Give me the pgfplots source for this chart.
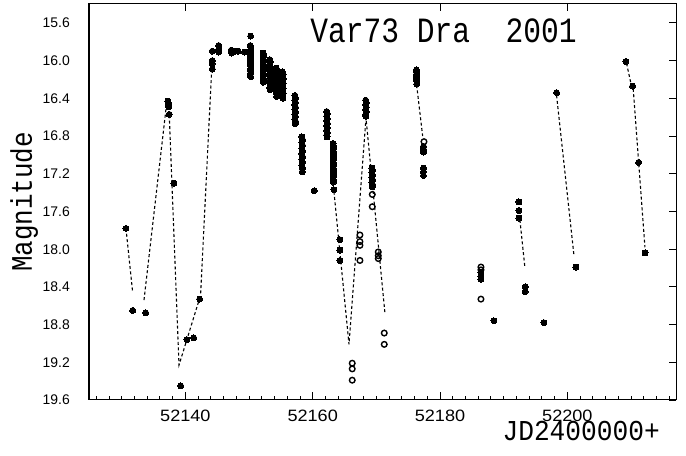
\documentclass[border=0pt]{standalone}
\usepackage{fontspec}
\setmainfont{Liberation Sans}
\newfontfamily\hersh{Liberation Mono}
\usepackage{pgfplots}
\pgfplotsset{compat=1.18}

\pgfplotsset{
  lc/.style={black, line width=1.1bp, dash pattern=on 3bp off 2.4bp, forget plot},
  filled/.style={only marks, mark=*, mark size=3.0bp, mark options={black, fill=black, line width=0bp}},
  hollow/.style={only marks, mark=o, mark size=2.8bp, mark options={black, line width=1.4bp}},
}
% tick label styles
\tikzset{
  ylab/.style={anchor=base east, inner sep=0pt, xshift=-19bp, yshift=-5bp, font=\fontsize{14}{14}\selectfont},
  xlab/.style={anchor=base, inner sep=0pt, yshift=-22bp, font=\fontsize{16.5}{16.5}\selectfont},
}
\newcommand{\xl}[1]{\scalebox{1.1}[1]{#1}}

\begin{document}
\begin{tikzpicture}
\begin{axis}[
  name=ax, scale only axis, width=587bp, height=396bp,
  xmin=52124.86, xmax=52217.07, ymin=15.4, ymax=19.6, y dir=reverse,
  clip=false, scaled x ticks=false, scaled y ticks=false,
  axis line style={line width=1bp},
  xtick={52140,52160,52180,52200}, xticklabels={},
  minor xtick={52126,52128,...,52216},
  xtick pos=bottom, xtick align=inside,
  ytick={15.6,16.0,16.4,16.8,17.2,17.6,18.0,18.4,18.8,19.2,19.6}, yticklabels={},
  ytick pos=left, ytick style={draw=none},
  major tick length=7.5bp, minor tick length=4bp,
  xtick style={line width=0.9bp, black},
]
% guide lines through the light curve
\addplot[lc] coordinates {(52130.67,17.78) (52131.72,18.46)};
\addplot[lc] coordinates {(52133.50,18.54) (52137.06,16.45)};
\addplot[lc] coordinates {(52137.47,16.58) (52139.00,19.23) (52142.29,18.51)};
\addplot[lc] coordinates {(52142.40,18.47) (52144.13,16.10)};
\addplot[lc] coordinates {(52163.34,17.39) (52165.70,19.01) (52168.37,16.61) (52171.35,18.68)};
\addplot[lc] coordinates {(52176.33,16.26) (52177.27,16.80)};
\addplot[lc] coordinates {(52192.55,17.69) (52193.34,18.20)};
\addplot[lc] coordinates {(52198.31,16.37) (52201.03,18.06)};
\addplot[lc] coordinates {(52209.30,16.03) (52209.98,16.24)};
\addplot[lc] coordinates {(52210.35,16.30) (52212.19,17.98)};

% detections
\addplot[filled] table {
x y
52130.67 17.78
52131.72 18.65
52133.76 18.675
52137.25 16.43
52137.30 16.45
52137.30 16.47
52137.35 16.49
52137.47 16.57
52138.20 17.30
52139.26 19.45
52140.25 18.96
52141.30 18.94
52142.24 18.53
52144.23 15.90
52144.23 16.00
52144.23 16.03
52144.23 16.09
52145.23 15.84
52145.23 15.88
52145.23 15.91
52147.20 15.89
52147.27 15.92
52147.80 15.90
52148.30 15.90
52149.30 15.91
52150.25 15.74
52150.20 15.84
52150.30 15.865
52150.20 15.89
52150.30 15.915
52150.20 15.94
52150.30 15.965
52150.20 15.99
52150.30 16.015
52150.20 16.04
52150.30 16.065
52150.20 16.09
52150.30 16.115
52150.20 16.14
52150.25 16.17
52152.20 15.92
52152.30 15.945
52152.20 15.97
52152.30 15.995
52152.20 16.02
52152.30 16.045
52152.20 16.07
52152.30 16.095
52152.20 16.12
52152.30 16.145
52152.20 16.17
52152.30 16.20
52152.24 16.23
52153.25 15.99
52153.35 16.015
52153.25 16.04
52153.35 16.065
52153.25 16.09
52153.35 16.115
52153.25 16.14
52153.35 16.165
52153.25 16.19
52153.35 16.215
52153.25 16.24
52153.35 16.265
52153.25 16.29
52153.30 16.31
52154.28 16.08
52154.38 16.105
52154.28 16.13
52154.38 16.155
52154.28 16.18
52154.38 16.205
52154.28 16.23
52154.38 16.255
52154.28 16.28
52154.38 16.305
52154.28 16.33
52154.38 16.355
52154.33 16.38
52155.25 16.12
52155.35 16.145
52155.25 16.17
52155.35 16.195
52155.25 16.22
52155.35 16.245
52155.25 16.27
52155.35 16.295
52155.25 16.32
52155.35 16.345
52155.25 16.37
52155.30 16.40
52157.20 16.37
52157.30 16.395
52157.20 16.42
52157.30 16.445
52157.20 16.47
52157.30 16.495
52157.20 16.52
52157.30 16.545
52157.20 16.57
52157.30 16.595
52157.20 16.62
52157.30 16.645
52157.25 16.67
52158.31 16.81
52158.41 16.84
52158.31 16.87
52158.41 16.90
52158.31 16.93
52158.41 16.96
52158.31 16.99
52158.41 17.02
52158.31 17.05
52158.41 17.08
52158.31 17.11
52158.41 17.14
52158.36 17.18
52160.25 17.38
52162.20 16.54
52162.30 16.565
52162.20 16.59
52162.30 16.615
52162.20 16.64
52162.30 16.665
52162.20 16.69
52162.30 16.715
52162.20 16.74
52162.30 16.765
52162.20 16.79
52162.25 16.81
52163.20 16.88
52163.30 16.91
52163.20 16.94
52163.30 16.97
52163.20 17.00
52163.30 17.03
52163.20 17.06
52163.30 17.09
52163.20 17.12
52163.30 17.15
52163.20 17.18
52163.30 17.21
52163.20 17.24
52163.30 17.27
52163.25 17.29
52163.34 17.37
52164.28 17.90
52164.28 18.01
52164.28 18.12
52168.32 16.42
52168.42 16.445
52168.32 16.47
52168.42 16.495
52168.32 16.52
52168.42 16.545
52168.32 16.57
52168.37 16.59
52169.31 17.14
52169.41 17.165
52169.31 17.19
52169.41 17.215
52169.31 17.24
52169.41 17.265
52169.31 17.29
52169.41 17.315
52169.36 17.34
52176.28 16.10
52176.38 16.125
52176.28 16.15
52176.38 16.175
52176.28 16.20
52176.38 16.225
52176.33 16.25
52177.40 16.91
52177.40 16.94
52177.40 16.97
52177.40 17.14
52177.40 17.18
52177.40 17.22
52186.43 18.25
52186.43 18.29
52186.43 18.32
52188.47 18.76
52192.40 17.50
52192.40 17.59
52192.40 17.67
52193.38 18.40
52193.38 18.45
52196.32 18.78
52198.31 16.34
52201.35 18.19
52209.20 16.01
52210.25 16.27
52211.20 17.08
52212.20 18.04
};

% upper limits / uncertain points
\addplot[hollow] table {
x y
52166.21 19.21
52166.21 19.27
52166.21 19.39
52167.42 17.85
52167.42 17.92
52167.42 17.96
52167.42 18.12
52169.36 17.42
52169.36 17.55
52170.30 18.03
52170.30 18.07
52170.30 18.10
52171.24 18.89
52171.24 19.01
52177.48 16.86
52186.43 18.19
52186.43 18.22
52186.43 18.53
};

% magnitude scale labels
\node[ylab] at (axis cs:52124.86,15.6) {15.6};
\node[ylab] at (axis cs:52124.86,16.0) {16.0};
\node[ylab] at (axis cs:52124.86,16.4) {16.4};
\node[ylab] at (axis cs:52124.86,16.8) {16.8};
\node[ylab] at (axis cs:52124.86,17.2) {17.2};
\node[ylab] at (axis cs:52124.86,17.6) {17.6};
\node[ylab] at (axis cs:52124.86,18.0) {18.0};
\node[ylab] at (axis cs:52124.86,18.4) {18.4};
\node[ylab] at (axis cs:52124.86,18.8) {18.8};
\node[ylab] at (axis cs:52124.86,19.2) {19.2};
\node[ylab] at (axis cs:52124.86,19.6) {19.6};
% date labels
\node[xlab] at (axis cs:52140,19.6) {\xl{52140}};
\node[xlab] at (axis cs:52160,19.6) {\xl{52160}};
\node[xlab] at (axis cs:52180,19.6) {\xl{52180}};
\node[xlab] at (axis cs:52200,19.6) {\xl{52200}};

\node[anchor=base, inner sep=0pt] at (axis cs:52180.54,15.812)
  {\scalebox{1}[1.2]{\hersh\fontsize{29.7}{30}\selectfont Var73 Dra\ \ 2001}};
\end{axis}

% major ticks along the top and right edges
\begin{axis}[
  scale only axis, width=587bp, height=396bp,
  at={(ax.south west)}, anchor=south west,
  xmin=52124.86, xmax=52217.07, ymin=15.4, ymax=19.6, y dir=reverse,
  scaled x ticks=false, scaled y ticks=false,
  axis line style={line width=1bp},
  xtick={52140,52160,52180,52200}, xticklabels={},
  ytick={15.6,16.0,16.4,16.8,17.2,17.6,18.0,18.4,18.8,19.2,19.6}, yticklabels={},
  xtick pos=right, ytick pos=right, tick align=inside,
  major tick length=7.5bp,
  tick style={line width=0.9bp, black},
]
\end{axis}

\node[rotate=90, anchor=base, inner sep=0pt] at ([shift={(-57bp,198bp)}]ax.south west)
  {\scalebox{1}[1.15]{\hersh\fontsize{26}{26}\selectfont Magnitude}};
\node[anchor=base east, inner sep=0pt] at ([shift={(571bp,-40.7bp)}]ax.south west)
  {\scalebox{1}[1.1]{\hersh\fontsize{26.3}{26.3}\selectfont JD2400000+}};

\pgfresetboundingbox
\path ([shift={(-89bp,-56bp)}]ax.south west) rectangle ([shift={(10bp,4bp)}]ax.north east);
\end{tikzpicture}
\end{document}
